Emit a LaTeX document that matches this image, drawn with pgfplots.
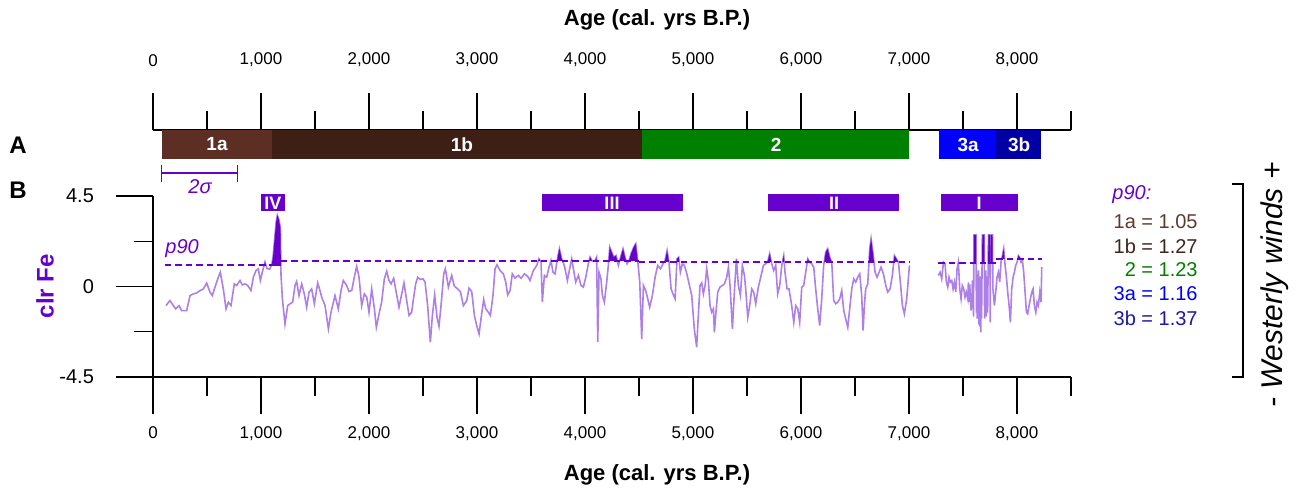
\documentclass[border=0pt]{standalone}
\usepackage{pgfplots}
\pgfplotsset{compat=1.18}
\usepackage{pgfplotstable}
\usepackage{fontspec}
\setmainfont{Liberation Sans}
\definecolor{dpur}{RGB}{102,0,204}
\definecolor{lpur}{RGB}{172,128,232}
\definecolor{z1a}{RGB}{92,46,36}
\definecolor{z1b}{RGB}{62,31,22}
\definecolor{z2}{RGB}{0,128,0}
\definecolor{z3a}{RGB}{0,0,255}
\definecolor{z3b}{RGB}{0,0,165}
\definecolor{t1a}{RGB}{92,58,46}
\definecolor{t1b}{RGB}{62,36,26}
\definecolor{t3b}{RGB}{25,25,170}

\pgfplotstableread{
age v
120 -0.95
157 -0.70
188 -0.95
210 -1.11
241 -0.95
265 -1.20
312 -1.20
343 -0.45
373 -0.37
404 -0.32
435 -0.20
466 -0.12
497 0.17
528 -0.28
549 -0.45
574 -0.03
605 0.46
623 0.71
651 -0.12
676 -1.11
698 -0.78
722 -0.95
753 0.13
775 0.05
806 0.30
827 0.08
852 0.13
877 0.05
907 -0.20
929 0.46
954 0.80
975 0.88
994 0.30
1012 0.71
1037 1.22
1055 0.90
1080 0.85
1100 1.10
1112 1.50
1125 2.30
1140 3.20
1151 3.55
1165 3.35
1180 2.90
1185 0.60
1198 -0.60
1222 -1.86
1247 -0.95
1269 -0.86
1293 -0.78
1315 0.05
1330 0.25
1352 -0.45
1377 0.13
1401 -0.37
1423 -1.03
1445 -0.28
1469 -0.12
1494 -0.86
1525 0.18
1546 -0.20
1562 -0.53
1593 -0.95
1624 -2.11
1648 -1.28
1685 -0.45
1716 -1.11
1741 -0.20
1762 0.30
1793 0.05
1815 -0.25
1840 -0.20
1864 0.46
1886 1.00
1908 0.46
1932 -0.95
1957 -0.37
1979 -0.53
2000 -1.28
2025 -0.12
2050 -1.11
2068 -2.03
2093 -1.36
2117 -0.78
2142 0.38
2164 0.76
2185 0.30
2204 0.13
2229 0.41
2253 -0.32
2278 -1.03
2303 -0.37
2324 0.18
2349 -0.70
2371 -1.44
2395 -1.28
2414 -0.53
2432 0.13
2451 0.46
2475 0.35
2500 0.38
2519 0.22
2543 -0.95
2568 -2.77
2587 -1.44
2608 -0.42
2630 -1.53
2648 -1.98
2667 -0.95
2692 0.63
2707 0.88
2735 -0.03
2766 0.55
2790 0.02
2821 -0.12
2846 -0.25
2874 -0.95
2905 -0.70
2926 -0.08
2951 -0.25
2976 -1.44
2997 -1.94
3019 -2.36
3037 -1.61
3062 -0.65
3081 -1.11
3105 -1.28
3124 -1.44
3148 -0.45
3167 0.88
3185 1.08
3213 0.80
3244 0.63
3266 0.22
3284 -0.42
3306 -0.20
3327 0.63
3352 0.42
3383 0.55
3408 0.41
3439 0.63
3469 0.51
3491 0.30
3522 0.80
3553 1.05
3574 1.38
3593 1.21
3605 -0.78
3624 0.55
3645 0.46
3667 0.96
3685 1.29
3704 0.71
3723 0.63
3747 1.46
3763 1.88
3784 1.38
3803 1.13
3815 0.88
3837 0.30
3855 0.80
3877 1.38
3895 0.80
3914 0.22
3939 0.55
3963 0.05
3985 -0.03
4007 0.46
4031 1.13
4047 1.46
4068 1.25
4093 1.29
4108 1.46
4118 -2.77
4130 0.71
4148 0.38
4161 -0.45
4179 -0.78
4201 0.22
4216 1.05
4229 1.96
4247 1.71
4266 1.46
4287 1.54
4309 1.05
4334 1.54
4352 1.88
4371 1.46
4389 1.13
4408 1.29
4426 1.63
4451 1.96
4470 2.13
4488 1.29
4507 0.22
4525 -2.61
4541 0.05
4562 -0.20
4581 -0.61
4599 -1.03
4624 -0.45
4649 0.46
4673 1.05
4698 0.88
4723 1.13
4741 1.29
4760 1.79
4778 1.21
4797 -0.12
4815 -0.37
4834 -0.61
4852 1.38
4868 1.46
4883 0.71
4902 1.13
4920 1.05
4939 0.71
4957 0.30
4988 -0.45
5013 -2.16
5034 -3.02
5050 -1.36
5065 0.05
5081 0.18
5096 -0.37
5112 0.05
5127 0.88
5142 0.30
5158 -0.95
5173 -1.28
5189 -1.11
5198 -2.28
5210 -1.44
5229 -0.28
5250 -0.03
5272 0.05
5291 0.13
5312 0.46
5328 0.96
5343 0.05
5365 -2.11
5383 -0.28
5402 1.38
5420 0.05
5439 -0.45
5457 1.05
5476 0.55
5488 -0.12
5507 -1.53
5525 -0.95
5544 -0.12
5562 -0.28
5581 -0.86
5605 -0.03
5627 0.46
5652 1.05
5673 1.13
5692 1.25
5710 1.63
5729 1.13
5747 0.80
5766 1.05
5784 -0.37
5803 0.05
5822 1.05
5840 1.54
5852 0.71
5871 -0.12
5889 -0.12
5914 -0.95
5933 -1.78
5951 -0.95
5970 -1.11
5988 -1.78
6007 -0.03
6025 0.05
6044 0.71
6062 1.38
6081 1.21
6099 1.13
6118 0.96
6136 -0.12
6155 -1.11
6173 -1.94
6192 -0.61
6210 1.05
6229 1.71
6247 1.88
6266 1.46
6285 1.21
6303 -0.70
6322 -0.86
6340 -0.78
6359 -0.61
6377 -0.20
6396 -1.20
6414 -1.61
6433 -2.03
6451 -1.11
6470 -0.12
6488 0.38
6507 0.22
6525 0.46
6544 0.63
6562 -0.45
6575 -2.19
6587 -0.95
6599 -0.12
6618 0.13
6636 1.88
6649 2.38
6667 1.63
6686 0.71
6704 0.46
6723 0.71
6741 0.96
6763 0.63
6785 0.05
6803 -0.28
6825 -0.12
6846 0.55
6865 1.54
6883 1.38
6902 1.21
6920 0.22
6939 -0.95
6957 -1.36
6979 -0.61
6994 0.38
7004 1.05
}\dataA

\pgfplotstableread{
age v
7272 0.55
7288 0.71
7303 0.38
7319 1.21
7334 1.13
7346 0.22
7359 -0.03
7371 0.46
7383 0.22
7396 0.30
7408 -0.12
7420 0.22
7433 -0.28
7445 0.88
7457 1.21
7470 -0.12
7482 -0.61
7494 0.05
7507 -0.12
7519 -0.53
7531 -0.28
7544 -0.61
7550 0.20
7556 -0.78
7562 0.10
7568 -0.45
7575 -1.20
7581 -0.95
7587 0.30
7593 -0.12
7598 -1.50
7601 2.57
7621 2.57
7624 -1.30
7628 0.60
7632 -1.60
7636 0.40
7640 -0.95
7644 0.80
7648 -1.90
7652 0.30
7656 -2.00
7660 0.50
7664 -2.28
7668 0.20
7672 -1.60
7676 0.70
7679 2.57
7697 2.57
7700 -1.60
7704 0.50
7708 -1.10
7712 0.80
7716 -1.50
7720 0.40
7724 -0.60
7728 -1.30
7732 0.50
7735 2.57
7749 2.57
7752 -1.78
7755 2.57
7773 2.57
7777 -0.12
7791 -0.95
7803 -0.28
7815 0.46
7828 0.71
7840 0.22
7852 1.21
7865 1.54
7877 1.88
7890 1.05
7902 0.46
7914 -0.28
7927 -0.95
7939 -1.78
7951 -0.12
7964 0.46
7976 0.71
7988 1.05
8001 1.21
8013 1.54
8025 1.46
8038 1.21
8050 1.29
8062 0.71
8075 -0.28
8087 -1.28
8099 -1.36
8112 -0.95
8124 -0.61
8137 -0.28
8149 -0.12
8161 -0.95
8174 -1.28
8186 -0.78
8198 -0.95
8211 -0.28
8223 -0.78
8229 0.96
}\dataB

\begin{document}
\begin{tikzpicture}
\useasboundingbox (0pt,0pt) rectangle (653.5pt,247.5pt);
\pgfplotsset{
  common/.style={
    scale only axis, width=459pt, anchor=south west,
    xmin=0, xmax=8500,
    xtick={0,1000,...,8000},
    minor xtick={500,1500,...,8500},
    scaled x ticks=false,
    tick label style={font=\fontsize{8.5}{10}\selectfont},
    /pgf/number format/assume math mode=true,
    /pgf/number format/1000 sep={,},
    clip=false,
  },
  lines/.style={
    tick align=outside,
    major tick length=18.5pt, minor tick length=9.5pt,
    tick style={black, line width=0.65pt},
    axis line style={black, line width=0.65pt, -},
    x axis line style={-}, y axis line style={-},
  },
  thr/.style={draw=dpur, line width=0.95pt, dash pattern=on 3.2pt off 2pt},
}
% ---- panel A : top age axis with zones
\begin{axis}[common, at={(76.5pt,168pt)}, height=14.5pt,
  ymin=0, ymax=1, axis x line=top, axis y line=none, lines,
  xticklabel style={yshift=9.5pt}]
\addplot[fill=z1a, draw=none] coordinates {(80,0)(80,1)(1100,1)(1100,0)} -- cycle;
\addplot[fill=z1b, draw=none] coordinates {(1100,0)(1100,1)(4530,1)(4530,0)} -- cycle;
\addplot[fill=z2, draw=none] coordinates {(4530,0)(4530,1)(7000,1)(7000,0)} -- cycle;
\addplot[fill=z3a, draw=none] coordinates {(7280,0)(7280,1)(7810,1)(7810,0)} -- cycle;
\addplot[fill=z3b, draw=none] coordinates {(7810,0)(7810,1)(8220,1)(8220,0)} -- cycle;
\begin{scope}[font=\bfseries\fontsize{9.5}{10}\selectfont, text=white]
\node at (axis cs:593,0.5) {1a};
\node at (axis cs:2861,0.5) {1b};
\node at (axis cs:5769,0.5) {2};
\node at (axis cs:7547,0.5) {3a};
\node at (axis cs:8020,0.5) {3b};
\end{scope}
\draw[dpur, line width=0.6pt] (axis cs:80,-0.483) -- (axis cs:780,-0.483);
\draw[dpur, line width=0.6pt] (axis cs:80,-0.21) -- (axis cs:80,-0.79);
\draw[dpur, line width=0.6pt] (axis cs:780,-0.21) -- (axis cs:780,-0.79);
\node[dpur, font=\itshape\fontsize{10}{10}\selectfont] at (axis cs:435,-0.95) {2σ};
\end{axis}
% ---- panel B : clr Fe
\begin{axis}[common, at={(76.5pt,59pt)}, height=90.5pt,
  ymin=-4.5, ymax=4.5,
  axis x line=bottom, axis y line=left, lines,
  ytick={-4.5,0,4.5}, yticklabels={-4.5,0,4.5},
  minor ytick={-2.25,2.25},
  xticklabel style={yshift=-3pt},
  yticklabel style={font=\fontsize{10}{10}\selectfont, xshift=-7.5pt}]
\addplot[lpur, line width=0.8pt] table[x=age,y=v]{\dataA};
\addplot[lpur, line width=0.8pt] table[x=age,y=v]{\dataB};
\begin{scope}
\clip (axis cs:80,1.05) rectangle (axis cs:1186,5);
\addplot[fill=dpur, draw=none] table[x=age,y=v]{\dataA} \closedcycle;
\end{scope}
\begin{scope}
\clip (axis cs:1186,1.27) rectangle (axis cs:4500,5);
\addplot[fill=dpur, draw=none] table[x=age,y=v]{\dataA} \closedcycle;
\end{scope}
\begin{scope}
\clip (axis cs:4500,1.23) rectangle (axis cs:7010,5);
\addplot[fill=dpur, draw=none] table[x=age,y=v]{\dataA} \closedcycle;
\end{scope}
\begin{scope}
\clip (axis cs:7260,1.16) rectangle (axis cs:7810,5);
\addplot[fill=dpur, draw=none] table[x=age,y=v]{\dataB} \closedcycle;
\end{scope}
\begin{scope}
\clip (axis cs:7810,1.37) rectangle (axis cs:8240,5);
\addplot[fill=dpur, draw=none] table[x=age,y=v]{\dataB} \closedcycle;
\end{scope}
% event bars
\addplot[fill=dpur, draw=none] coordinates {(1000,3.73)(1000,4.58)(1222,4.58)(1222,3.73)} -- cycle;
\addplot[fill=dpur, draw=none] coordinates {(3600,3.73)(3600,4.58)(4907,4.58)(4907,3.73)} -- cycle;
\addplot[fill=dpur, draw=none] coordinates {(5694,3.73)(5694,4.58)(6907,4.58)(6907,3.73)} -- cycle;
\addplot[fill=dpur, draw=none] coordinates {(7296,3.73)(7296,4.58)(8009,4.58)(8009,3.73)} -- cycle;
\begin{scope}[font=\bfseries\fontsize{9}{9}\selectfont, text=white]
\node at (axis cs:1111,4.15) {IV};
\node at (axis cs:4250,4.15) {III};
\node at (axis cs:6306,4.15) {II};
\node at (axis cs:7649,4.15) {I};
\end{scope}
\node[dpur, font=\itshape\fontsize{10}{10}\selectfont, anchor=west, inner sep=0pt] at (axis cs:111,1.89) {p90};
% p90 thresholds
\addplot[thr] coordinates {(111,1.05)(1186,1.05)};
\addplot[thr] coordinates {(1186,1.27)(4500,1.27)};
\addplot[thr] coordinates {(4500,1.23)(7004,1.23)};
\addplot[thr] coordinates {(7272,1.16)(7810,1.16)};
\addplot[thr] coordinates {(7810,1.37)(8229,1.37)};
\end{axis}
% ---- free labels
\node[font=\bfseries\fontsize{11}{12}\selectfont] at (328.5pt,237.5pt) {Age (cal. yrs B.P.)};
\node[font=\bfseries\fontsize{11}{12}\selectfont] at (328.5pt,10pt) {Age (cal. yrs B.P.)};
\node[font=\bfseries\fontsize{12}{12}\selectfont] at (9pt,175pt) {A};
\node[font=\bfseries\fontsize{12}{12}\selectfont] at (9pt,152.5pt) {B};
\node[dpur, font=\bfseries\fontsize{12}{12}\selectfont, rotate=90] at (22.5pt,104.5pt) {clr Fe};
\node[dpur, font=\itshape\fontsize{10}{10}\selectfont, anchor=west, inner sep=0pt] at (556pt,150pt) {p90:};
\begin{scope}[font=\fontsize{10}{10}\selectfont]
\node[t1a, anchor=east, inner sep=0pt] at (599pt,136.5pt) {1a = 1.05};
\node[t1b, anchor=east, inner sep=0pt] at (599pt,124.5pt) {1b = 1.27};
\node[z2, anchor=east, inner sep=0pt] at (599pt,112.5pt) {2 = 1.23};
\node[z3a, anchor=east, inner sep=0pt] at (599pt,100.5pt) {3a = 1.16};
\node[t3b, anchor=east, inner sep=0pt] at (599pt,88.5pt) {3b = 1.37};
\end{scope}
\draw[black, line width=0.65pt] (616pt,155.5pt) -- (621.5pt,155.5pt) -- (621.5pt,59pt) -- (616pt,59pt);
\node[font=\itshape\fontsize{15}{15}\selectfont, rotate=90] at (637.5pt,105pt) {- Westerly winds +};
\end{tikzpicture}
\end{document}
